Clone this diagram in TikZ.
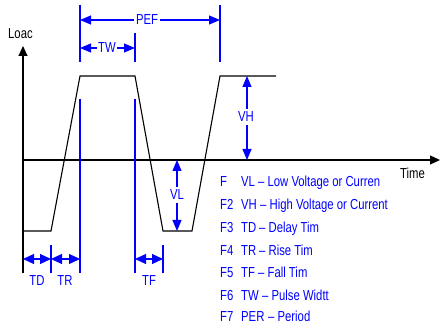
\documentclass[tikz,border=0pt]{standalone}
\usepackage{fontspec}
\setmainfont{Liberation Sans}
\newfontfamily\lblfont[FakeStretch=0.78]{Liberation Sans}
\usetikzlibrary{arrows.meta}
\begin{document}
\begin{tikzpicture}[x=1pt,y=-1pt,
  wave/.style={draw=black,line width=1.1pt},
  guide/.style={draw=blue,line width=1.2pt},
  axisarrow/.style={draw=black,line width=1.1pt,-{Triangle[length=10pt,width=9pt]}},
  dimarrow/.style={draw=blue,line width=1.2pt,-{Triangle[length=11pt,width=9pt]}},
  dimtwo/.style={draw=blue,line width=1.2pt,{Triangle[length=11pt,width=10pt]}-{Triangle[length=11pt,width=10pt]}},
  lab/.style={text=blue,font=\lblfont\fontsize{14.5}{15}\selectfont,inner sep=0pt},
  blk/.style={text=black,font=\lblfont\fontsize{14.5}{15}\selectfont,inner sep=0pt},
  leg/.style={text=blue,font=\lblfont\fontsize{14.5}{15}\selectfont,inner sep=0pt,anchor=base west}]
\fill[white] (0,0) rectangle (440,329);
\useasboundingbox (0,0) rectangle (440,329);
% axes
\coordinate (o) at (23,160);
\coordinate (ytop) at (23,46);
\coordinate (ybot) at (23,273);
\coordinate (xend) at (440,160);
\draw[axisarrow] (ybot) -- (ytop);
\draw[axisarrow] (o) -- (xend);
\node[blk,anchor=west] (load) at (8,34) {Loac};
\node[blk,anchor=west] (time) at (400,173) {Time};
% waveform
\coordinate (w0) at (23,231);
\coordinate (w1) at (51,231);
\coordinate (w2) at (80,76);
\coordinate (w3) at (135,76);
\coordinate (w4) at (163,231);
\coordinate (w5) at (192,231);
\coordinate (w6) at (220,76);
\coordinate (w7) at (276,76);
\draw[wave] (w0) -- (w1) -- (w2) -- (w3) -- (w4) -- (w5) -- (w6) -- (w7);
% guide lines
\coordinate (ga1) at (80,5);   \coordinate (ga2) at (80,62);
\coordinate (gb1) at (135,33); \coordinate (gb2) at (135,62);
\coordinate (gc1) at (220,5);  \coordinate (gc2) at (220,62);
\coordinate (gd1) at (80,99);  \coordinate (gd2) at (80,273);
\coordinate (ge1) at (135,99); \coordinate (ge2) at (135,273);
\coordinate (gf1) at (51,245); \coordinate (gf2) at (51,273);
\coordinate (gg1) at (163,245);\coordinate (gg2) at (163,273);
\draw[guide] (ga1) -- (ga2);
\draw[guide] (gb1) -- (gb2);
\draw[guide] (gc1) -- (gc2);
\draw[guide] (gd1) -- (gd2);
\draw[guide] (ge1) -- (ge2);
\draw[guide] (gf1) -- (gf2);
\draw[guide] (gg1) -- (gg2);
% PER
\node[lab,inner xsep=2pt] (per) at (147,20) {PEF};
\coordinate (perL) at (80,20);
\coordinate (perR) at (220,20);
\draw[dimarrow] (per.west) -- (perL);
\draw[dimarrow] (per.east) -- (perR);
% TW
\node[lab,inner xsep=1pt] (tw) at (107,48) {TW};
\coordinate (twL) at (80,48);
\coordinate (twR) at (135,48);
\draw[dimarrow] (tw.west) -- (twL);
\draw[dimarrow] (tw.east) -- (twR);
% VH
\node[lab,inner ysep=3pt] (vh) at (246,117) {VH};
\coordinate (vhT) at (247,76);
\coordinate (vhB) at (247,160);
\draw[dimarrow] (vh.north -| vhT) -- (vhT);
\draw[dimarrow] (vh.south -| vhB) -- (vhB);
% VL
\node[lab,inner ysep=3pt] (vl) at (177,195) {VL};
\coordinate (vlT) at (177,160);
\coordinate (vlB) at (177,231);
\draw[dimarrow] (vl.north -| vlT) -- (vlT);
\draw[dimarrow] (vl.south -| vlB) -- (vlB);
% TD TR TF
\coordinate (td1) at (23,259);
\coordinate (td2) at (51,259);
\coordinate (tr2) at (80,259);
\coordinate (tf1) at (135,259);
\coordinate (tf2) at (163,259);
\draw[dimtwo] (td1) -- (td2);
\draw[dimtwo] (td2) -- (tr2);
\draw[dimtwo] (tf1) -- (tf2);
\node[lab] (tdl) at (37,281) {TD};
\node[lab] (trl) at (65,281) {TR};
\node[lab] (tfl) at (149,281) {TF};
% legend
\node[leg] (l1a) at (220,187) {F};
\node[leg] (l1b) at (241,187) {VL};
\node[leg] (l1c) at (258,187) {– Low Voltage or Curren};
\node[leg] (l2a) at (220,209) {F2};
\node[leg] (l2b) at (241,209) {VH};
\node[leg] (l2c) at (260,209) {– High Voltage or Current};
\node[leg] (l3a) at (220,233) {F3};
\node[leg] (l3b) at (241,233) {TD};
\node[leg] (l3c) at (259,233) {– Delay Tim};
\node[leg] (l4a) at (220,255) {F4};
\node[leg] (l4b) at (241,255) {TR};
\node[leg] (l4c) at (259,255) {– Rise Tim};
\node[leg] (l5a) at (220,277) {F5};
\node[leg] (l5b) at (241,277) {TF};
\node[leg] (l5c) at (258,277) {– Fall Tim};
\node[leg] (l6a) at (220,300) {F6};
\node[leg] (l6b) at (241,300) {TW};
\node[leg] (l6c) at (262,300) {– Pulse Widtt};
\node[leg] (l7a) at (220,321) {F7};
\node[leg] (l7b) at (241,321) {PER};
\node[leg] (l7c) at (268,321) {– Period};
\end{tikzpicture}
\end{document}
